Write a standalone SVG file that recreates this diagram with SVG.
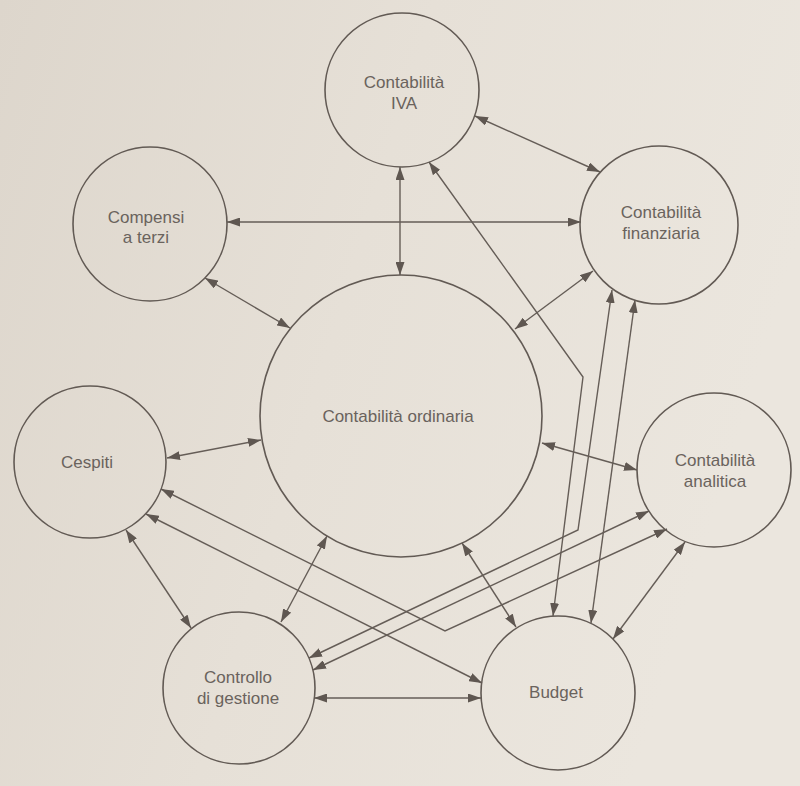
<svg xmlns="http://www.w3.org/2000/svg" width="800" height="786" viewBox="0 0 800 786">
<defs>
<linearGradient id="bg" x1="0" y1="0" x2="1" y2="0.3">
<stop offset="0" stop-color="#ddd6cc"/>
<stop offset="0.5" stop-color="#e6e0d7"/>
<stop offset="1" stop-color="#ebe6de"/>
</linearGradient>
<marker id="ah" viewBox="0 0 13 9" refX="13" refY="4.5" markerWidth="13" markerHeight="9" markerUnits="userSpaceOnUse" orient="auto-start-reverse">
<path d="M0,0 L13,4.5 L0,9 z" fill="#5f5751"/>
</marker>
<style>
.node circle{fill:none;stroke:#625a54;stroke-width:1.6}
.node text{font-family:"Liberation Sans",Arial,sans-serif;font-size:17px;fill:#6a635d;text-anchor:middle}
#connectors path{fill:none;stroke:#655d57;stroke-width:1.4;marker-start:url(#ah);marker-end:url(#ah)}
</style>
</defs>
<rect x="0" y="0" width="800" height="786" fill="url(#bg)"/>

<g id="connectors">
<path d="M400,167 L400,275"/>
<path d="M475,116 L600,172"/>
<path d="M227,222 L581,222"/>
<path d="M205,278 L290,328"/>
<path d="M593,271 L515,329"/>
<path d="M167,458 L261,440"/>
<path d="M542,443 L637,470"/>
<path d="M327,536 L281,622"/>
<path d="M462,543 L516,627"/>
<path d="M314,698 L481,698"/>
<path d="M126,530 L191,628"/>
<path d="M146,514 L482,683"/>
<path d="M161,489 L445,631 L667,529"/>
<path d="M429,162 L583,377 L553,616"/>
<path d="M612,290 L578,530 L309,658"/>
<path d="M635,300 L591,623"/>
<path d="M649,511 L313,670"/>
<path d="M685,542 L613,639"/>
</g>

<g id="node-iva" class="node">
<circle cx="402" cy="90" r="77"/>
<text x="404" y="88">Contabilità</text>
<text x="404" y="109">IVA</text>
</g>
<g id="node-compensi" class="node">
<circle cx="150" cy="224" r="77"/>
<text x="146" y="223">Compensi</text>
<text x="146" y="243">a terzi</text>
</g>
<g id="node-finanziaria" class="node">
<circle cx="659" cy="225" r="79"/>
<text x="661" y="218">Contabilità</text>
<text x="661" y="239">finanziaria</text>
</g>
<g id="node-ordinaria" class="node">
<circle cx="401" cy="416" r="141"/>
<text x="398" y="422">Contabilità ordinaria</text>
</g>
<g id="node-cespiti" class="node">
<circle cx="90" cy="462" r="76"/>
<text x="87" y="468">Cespiti</text>
</g>
<g id="node-analitica" class="node">
<circle cx="714" cy="470" r="77"/>
<text x="715" y="466">Contabilità</text>
<text x="715" y="487">analitica</text>
</g>
<g id="node-controllo" class="node">
<circle cx="239" cy="688" r="76"/>
<text x="238" y="683">Controllo</text>
<text x="238" y="704">di gestione</text>
</g>
<g id="node-budget" class="node">
<circle cx="558" cy="693" r="77"/>
<text x="556" y="698">Budget</text>
</g>
</svg>
